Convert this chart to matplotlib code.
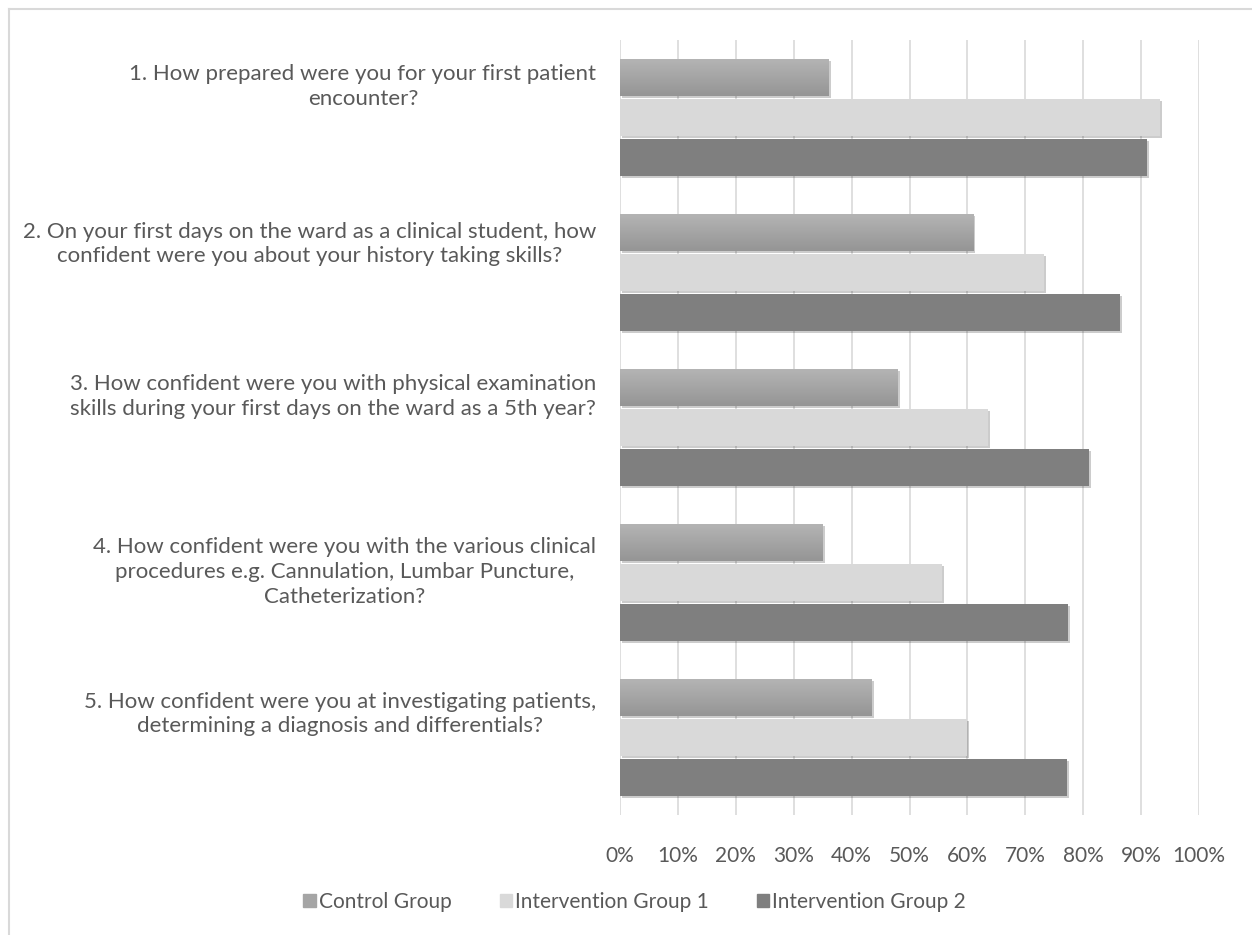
import numpy as np
import matplotlib.pyplot as plt
import matplotlib.transforms as mtransforms
import matplotlib.patheffects as pe
from matplotlib.lines import Line2D
from matplotlib.patches import Patch
from matplotlib.colors import LinearSegmentedColormap

plt.rcParams['font.family'] = ['Lato', 'DejaVu Sans']

# data (fractions)
questions = [
    "1. How prepared were you for your first patient\nencounter?",
    "2. On your first days on the ward as a clinical student, how\nconfident were you about your history taking skills?",
    "3. How confident were you with physical examination\nskills during your first days on the ward as a 5th year?",
    "4. How confident were you with the various clinical\nprocedures e.g. Cannulation, Lumbar Puncture,\nCatheterization?",
    "5. How confident were you at investigating patients,\ndetermining a diagnosis and differentials?",
]
control = [0.36, 0.61, 0.48, 0.35, 0.435]
group1 = [0.933, 0.733, 0.636, 0.556, 0.60]
group2 = [0.91, 0.864, 0.81, 0.773, 0.772]
series_names = ['Control Group', 'Intervention Group 1', 'Intervention Group 2']

txt = '#595959'
grid_col = '#d9d9d9'
c_ctrl = '#a5a5a5'
c_g1 = '#d9d9d9'
c_g2 = '#7f7f7f'

fig = plt.figure(figsize=(12.52, 9.35), dpi=100)
ax = fig.add_axes([620/1252, 1 - 815/935, (1199-620)/1252, (815-40)/935])

y = np.arange(len(questions))
h = 0.235
step = 0.258
shadow = [pe.SimplePatchShadow(offset=(1.5, -1.5), shadow_rgbFace='k', alpha=0.2), pe.Normal()]

b0 = ax.barh(y - step, control, height=h, color=c_ctrl, zorder=3, path_effects=shadow)
b1 = ax.barh(y, group1, height=h, color=c_g1, zorder=3, path_effects=shadow)
b2 = ax.barh(y + step, group2, height=h, color=c_g2, zorder=3, path_effects=shadow)

# vertical gradient on the control bars
cmap = LinearSegmentedColormap.from_list('g', ['#b4b4b4', '#959595'])
grad = np.linspace(0, 1, 64).reshape(-1, 1)
for bar in b0:
    x0, y0 = bar.get_x(), bar.get_y()
    w, hh = bar.get_width(), bar.get_height()
    im = ax.imshow(grad, cmap=cmap, extent=[x0, x0 + w, y0 + hh, y0], aspect='auto',
                   zorder=3.5, interpolation='bilinear')
    im.set_clip_path(bar)

ax.set_ylim(len(questions) - 0.5, -0.5)
ax.set_xlim(0, 1)
ax.set_xticks(np.linspace(0, 1, 11))
ax.set_xticklabels([f'{int(v)}%' for v in np.linspace(0, 100, 11)])
ax.set_yticks(y)
ax.set_yticklabels(questions, multialignment='center', linespacing=1.3, fontsize=16)
ax.grid(axis='x', color=grid_col, linewidth=1.2, zorder=0)
for s in ax.spines.values():
    s.set_visible(False)
ax.tick_params(axis='both', length=0, colors=txt)
ax.tick_params(axis='x', labelsize=15, pad=22)
ax.tick_params(axis='y', pad=17)

# Excel places the category labels a little above the bar group
offsets = [35, 33, 35, 15, 28]
for lab, dy in zip(ax.get_yticklabels(), offsets):
    lab.set_transform(lab.get_transform() + mtransforms.ScaledTranslation(0, dy / 100, fig.dpi_scale_trans))

handles = [Patch(color=c_ctrl), Patch(color=c_g1), Patch(color=c_g2)]
fig.legend(handles, series_names, loc='center', bbox_to_anchor=(0.507, 1 - 902/935), ncol=3, frameon=False,
           fontsize=15, labelcolor=txt, handlelength=0.6, handleheight=0.6, handletextpad=0.15,
           columnspacing=2.3)

# chart border (left and top only visible)
fig.add_artist(Line2D([9/1252, 9/1252], [0, 1 - 9/935], color='#d9d9d9', lw=1.5, transform=fig.transFigure))
fig.add_artist(Line2D([9/1252, 1], [1 - 9/935, 1 - 9/935], color='#d9d9d9', lw=1.5, transform=fig.transFigure))

fig.savefig('out.png', dpi=100)
